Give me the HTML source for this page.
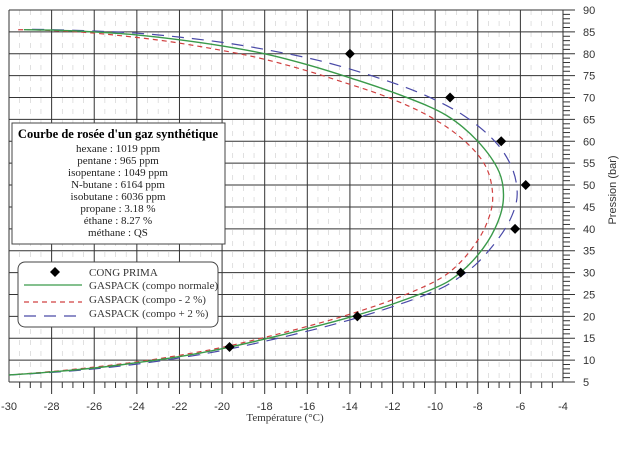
<!DOCTYPE html>
<html><head><meta charset="utf-8"><style>
html,body{margin:0;padding:0;background:#fff;}
svg{display:block;font-family:"Liberation Serif",serif;}
.ax{font-family:"Liberation Sans",sans-serif;font-size:11px;fill:#333;}
</style></head><body>
<svg id="chart" width="623" height="457" viewBox="0 0 623 457" xmlns="http://www.w3.org/2000/svg">
<g id="grid"></g>
<g id="axes"></g>
<g id="series"></g>
<text class="ax" x="285" y="421" text-anchor="middle" style="font-family:'Liberation Serif',serif;font-size:11px">Température (°C)</text>
<text class="ax" transform="translate(616,190) rotate(-90)" text-anchor="middle">Pression (bar)</text>
<g>
<rect x="12" y="123" width="213" height="121" fill="#fff" stroke="#444" stroke-width="1"/>
<text x="118" y="138" text-anchor="middle" font-size="12.5" font-weight="bold">Courbe de rosée d'un gaz synthétique</text>
<g font-size="11" text-anchor="middle" fill="#222">
<text x="118" y="152">hexane : 1019 ppm</text>
<text x="118" y="164">pentane : 965 ppm</text>
<text x="118" y="176">isopentane : 1049 ppm</text>
<text x="118" y="188">N-butane : 6164 ppm</text>
<text x="118" y="200">isobutane : 6036 ppm</text>
<text x="118" y="212">propane : 3.18 %</text>
<text x="118" y="224">éthane : 8.27 %</text>
<text x="118" y="236">méthane : QS</text>
</g></g>
<g>
<rect x="18" y="262" width="200" height="65" rx="7" fill="#fff" stroke="#444"/>
<g><path d="M55 267 L60 272 L55 277 L50 272Z" fill="#000"/><text x="89" y="276" font-size="11" fill="#333">CONG PRIMA</text></g>
<g><line x1="24" y1="285" x2="82" y2="285" stroke="#3a9a4a" stroke-width="1.3"/><text x="89" y="289" font-size="11" fill="#333">GASPACK (compo normale)</text></g>
<g><line x1="24" y1="302" x2="82" y2="302" stroke="#d04040" stroke-width="1.2" stroke-dasharray="5,4"/><text x="89" y="303" font-size="11" fill="#333">GASPACK (compo - 2 %)</text></g>
<g><line x1="24" y1="316" x2="82" y2="316" stroke="#4a4aa8" stroke-width="1.2" stroke-dasharray="12,8"/><text x="89" y="317" font-size="11" fill="#333">GASPACK (compo + 2 %)</text></g>
</g>
</svg>
<script>
const xTicks=[-30,-28,-26,-24,-22,-20,-18,-16,-14,-12,-10,-8,-6,-4];
const yTicks=[5,10,15,20,25,30,35,40,45,50,55,60,65,70,75,80,85,90];
const congT=[-14,-9.3,-6.9,-5.75,-6.25,-8.8,-13.65,-19.65];
const congP=[80,70,60,50,40,30,20,13];
const normT=[-30,-28,-26,-24,-22,-20,-18,-16,-14,-12,-10,-9,-8,-7.2,-6.8,-7.0,-8.0,-9.5,-11.6,-14,-16,-18,-20,-22,-24,-26,-28,-29.3];
const normP=[6.6,7.3,8.2,9.4,10.8,12.6,14.8,17.2,19.8,22.8,26.5,29.3,34,40,46.5,53,60,66,70.5,74.5,77.5,80,81.8,83.2,84.3,85,85.4,85.5];
const minusT=[-30,-28,-26,-24,-22,-20,-18,-16,-14,-12,-10,-9,-8.2,-7.6,-7.3,-7.6,-8.6,-10.2,-12.2,-14.5,-16.5,-18.5,-20.5,-22.5,-24.5,-26.5,-28.5,-29.6];
const minusP=[6.6,7.4,8.4,9.6,11.1,12.9,15.2,17.7,20.5,23.8,28,31.5,36,41,47,54,60,65.5,70,73.8,76.8,79.3,81.2,82.8,84,84.9,85.4,85.5];
const plusT=[-30,-28,-26,-24,-22,-20,-18,-16,-14,-12,-10,-9,-8,-7,-6.4,-6.15,-6.4,-7.2,-8.7,-10.7,-13,-15.5,-18,-20,-22,-24,-26,-28,-29];
const plusP=[6.6,7.2,8.0,9.1,10.5,12.2,14.3,16.6,19.2,22.2,25.8,28.5,32.3,38,43,48,54,60,66,71,75,78.5,81,82.6,83.8,84.7,85.2,85.5,85.6];
const X0=9,X1=563,Y0=382,Y1=10;
const xs=t=>X0+(t+30)/26*(X1-X0);
const ys=p=>Y0-(p-5)/85*(Y0-Y1);
const NS="http://www.w3.org/2000/svg";
function mk(tag,parent,attrs){const e=document.createElementNS(NS,tag);for(const k in attrs)e.setAttribute(k,attrs[k]);parent.appendChild(e);return e;}
const grid=document.getElementById('grid'),axes=document.getElementById('axes'),ser=document.getElementById('series');
for(let t=-30;t<=-4;t+=0.5){if(t%2===0)continue;const l=mk('line',grid,{x1:xs(t),x2:xs(t),y1:Y1,y2:Y0,stroke:'#ccc','stroke-width':0.6,'stroke-dasharray':'5,6'});

}
xTicks.forEach(t=>{const l=mk('line',grid,{x1:xs(t),x2:xs(t),y1:Y1,y2:t===-30||t===-4?Y0:Y0+12,stroke:'#333','stroke-width':1});


const tx=mk('text',axes,{x:xs(t),y:410,'text-anchor':'middle',class:'ax'});tx.textContent=t;

});
for(let t=-29.5;t<-4;t+=0.5){if(Number.isInteger(t)&&t%2===0)continue;const l=mk('line',axes,{x1:xs(t),x2:xs(t),y1:Y0,y2:Y0+6,stroke:'#333','stroke-width':1});

}
yTicks.forEach(p=>{const l=mk('line',grid,{x1:X0,x2:X1+12,y1:ys(p),y2:ys(p),stroke:'#333','stroke-width':1});


const tx=mk('text',axes,{x:583,y:ys(p)+4,class:'ax'});tx.textContent=p;

});
for(let p=6;p<90;p++){if(p%5===0)continue;const l=mk('line',axes,{x1:X1,x2:X1+7,y1:ys(p),y2:ys(p),stroke:'#333','stroke-width':1});

}
function line(T,P,col,dash,name,w){
const pts=T.map((t,i)=>[xs(t),ys(P[i])]);
let d='M'+pts[0][0].toFixed(1)+' '+pts[0][1].toFixed(1);
for(let i=0;i<pts.length-1;i++){const p0=pts[Math.max(0,i-1)],p1=pts[i],p2=pts[i+1],p3=pts[Math.min(pts.length-1,i+2)];
const c1=[p1[0]+(p2[0]-p0[0])/6,p1[1]+(p2[1]-p0[1])/6],c2=[p2[0]-(p3[0]-p1[0])/6,p2[1]-(p3[1]-p1[1])/6];
d+=` C${c1[0].toFixed(1)} ${c1[1].toFixed(1)} ${c2[0].toFixed(1)} ${c2[1].toFixed(1)} ${p2[0].toFixed(1)} ${p2[1].toFixed(1)}`;}
const a={d:d,fill:'none',stroke:col,'stroke-width':w};if(dash)a['stroke-dasharray']=dash;const e=mk('path',ser,a);

}
line(minusT,minusP,'#d04040','5,4','curve-compo-minus-2',1.2);
line(plusT,plusP,'#4a4aa8','12,8','curve-compo-plus-2',1.2);
line(normT,normP,'#3a9a4a',null,'curve-compo-normale',1.4);
congT.forEach((t,i)=>{const x=xs(t),y=ys(congP[i]);const e=mk('path',ser,{d:`M${x} ${y-5}L${x+5} ${y}L${x} ${y+5}L${x-5} ${y}Z`,fill:'#000'});

});
</script>
</body></html>
